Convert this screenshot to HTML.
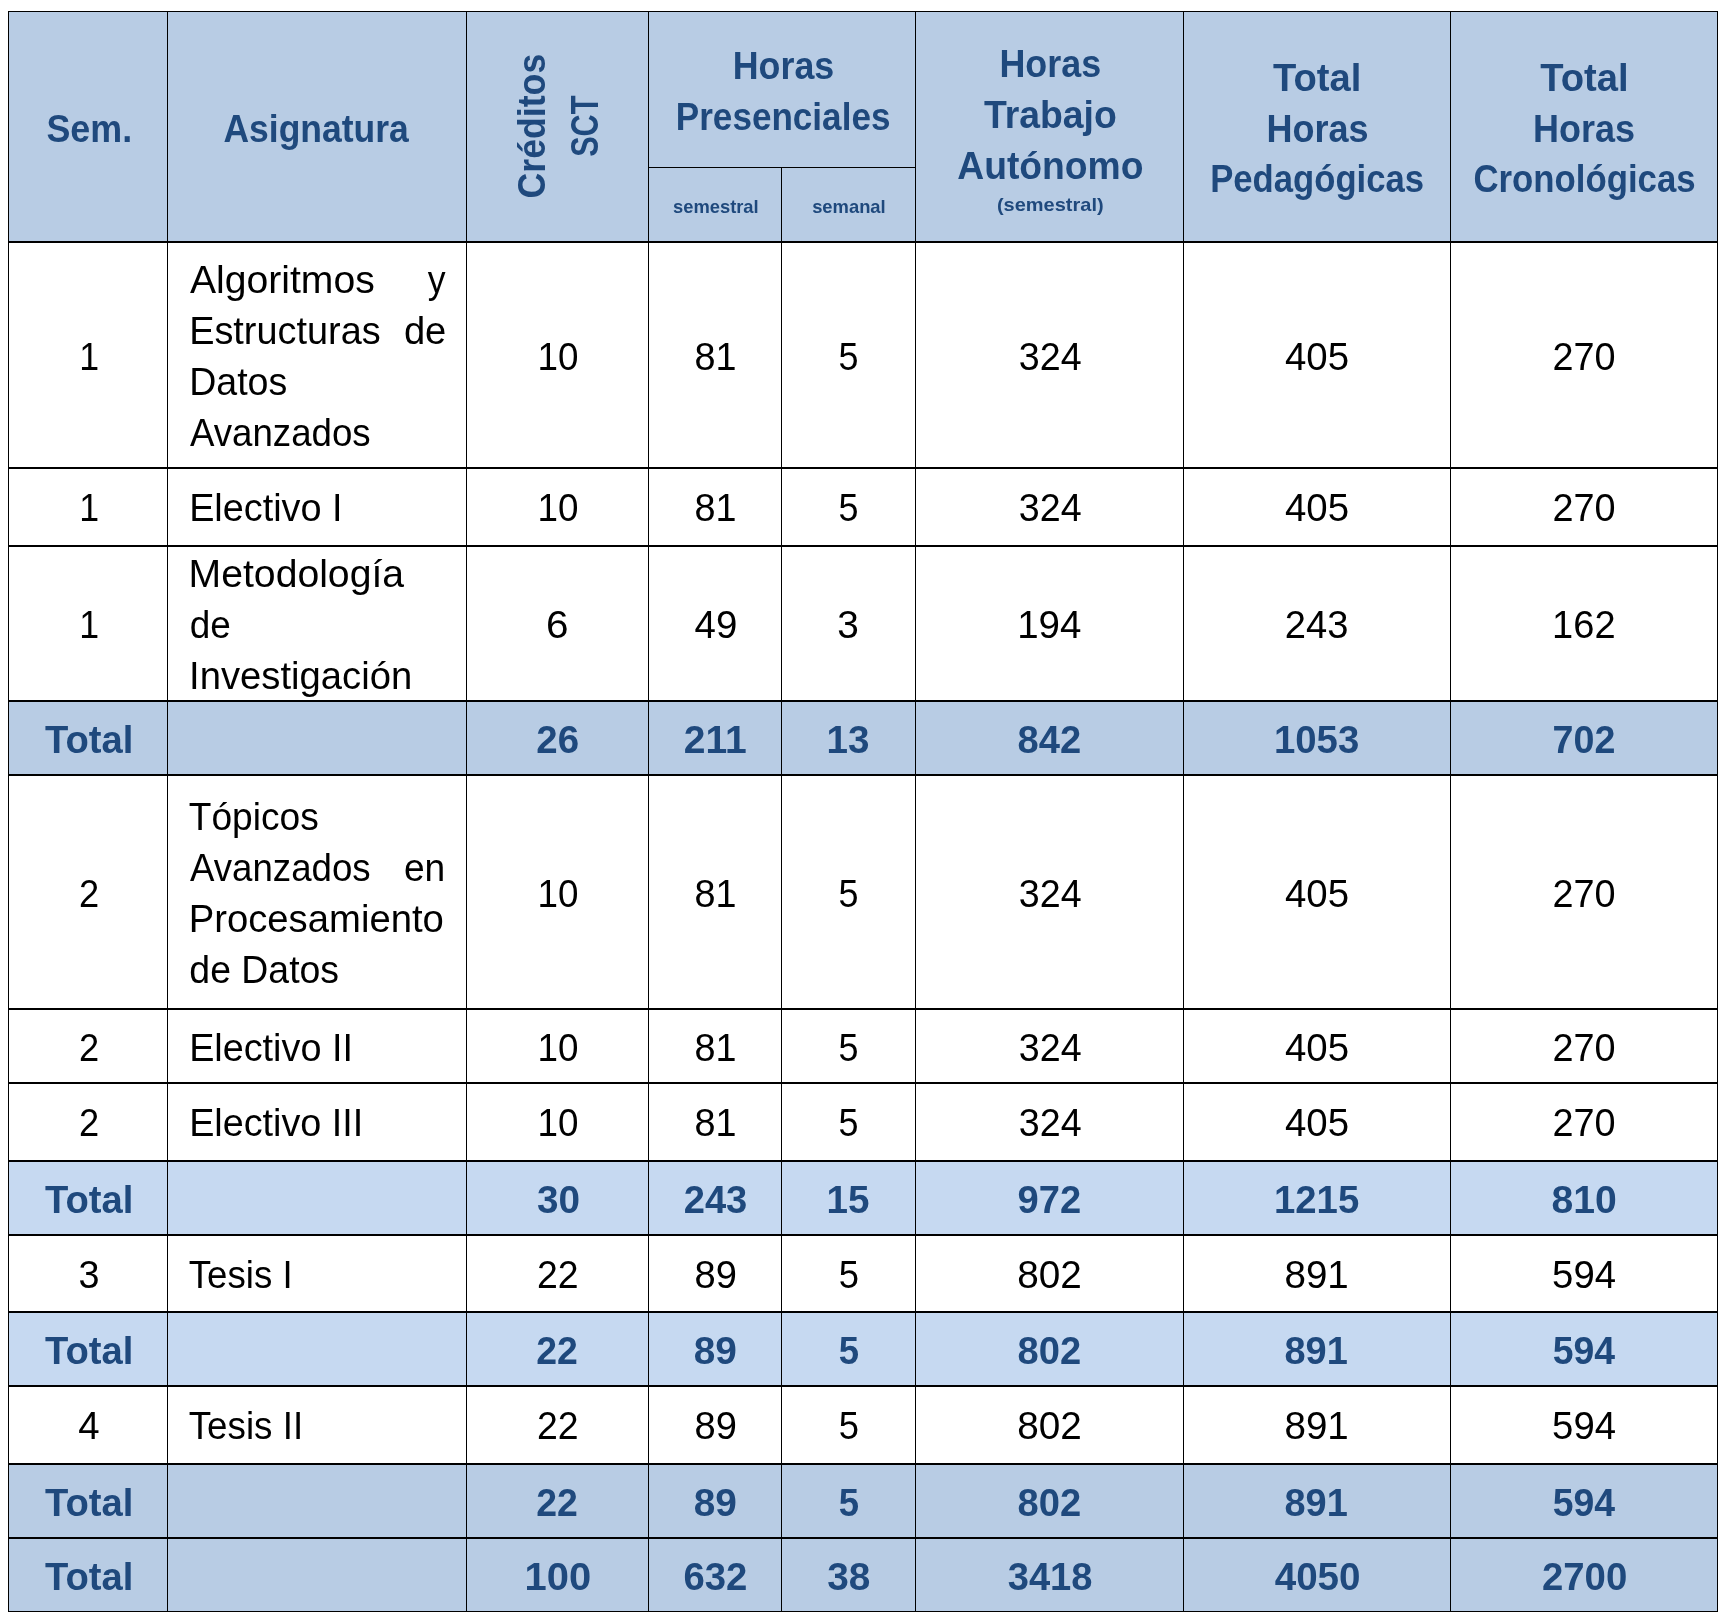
<!DOCTYPE html>
<html><head><meta charset="utf-8"><style>
html,body{margin:0;padding:0;background:#fff;width:1729px;height:1620px;overflow:hidden}
svg{display:block;will-change:transform}
text{font-family:"Liberation Sans",sans-serif;font-size:39px}
</style></head><body>
<svg width="1729" height="1620" viewBox="0 0 1729 1620">
<g shape-rendering="crispEdges">
<rect x="9" y="12" width="1708" height="229" fill="#B8CCE4"/>
<rect x="9" y="702" width="1708" height="72" fill="#B8CCE4"/>
<rect x="9" y="1162" width="1708" height="72" fill="#C6D9F1"/>
<rect x="9" y="1313" width="1708" height="72" fill="#C6D9F1"/>
<rect x="9" y="1465" width="1708" height="72" fill="#B8CCE4"/>
<rect x="9" y="1539" width="1708" height="72" fill="#B8CCE4"/>
<rect x="8" y="11" width="1710" height="1" fill="#000"/>
<rect x="648" y="167" width="267" height="1" fill="#000"/>
<rect x="8" y="241" width="1710" height="2" fill="#000"/>
<rect x="8" y="467" width="1710" height="2" fill="#000"/>
<rect x="8" y="545" width="1710" height="2" fill="#000"/>
<rect x="8" y="700" width="1710" height="2" fill="#000"/>
<rect x="8" y="774" width="1710" height="2" fill="#000"/>
<rect x="8" y="1008" width="1710" height="2" fill="#000"/>
<rect x="8" y="1082" width="1710" height="2" fill="#000"/>
<rect x="8" y="1160" width="1710" height="2" fill="#000"/>
<rect x="8" y="1234" width="1710" height="2" fill="#000"/>
<rect x="8" y="1311" width="1710" height="2" fill="#000"/>
<rect x="8" y="1385" width="1710" height="2" fill="#000"/>
<rect x="8" y="1463" width="1710" height="2" fill="#000"/>
<rect x="8" y="1537" width="1710" height="2" fill="#000"/>
<rect x="8" y="1611" width="1710" height="1" fill="#000"/>
<rect x="8" y="11" width="1" height="1601" fill="#000"/>
<rect x="167" y="11" width="1" height="1601" fill="#000"/>
<rect x="466" y="11" width="1" height="1601" fill="#000"/>
<rect x="648" y="11" width="1" height="1601" fill="#000"/>
<rect x="781" y="167" width="1" height="1445" fill="#000"/>
<rect x="915" y="11" width="1" height="1601" fill="#000"/>
<rect x="1183" y="11" width="1" height="1601" fill="#000"/>
<rect x="1450" y="11" width="1" height="1601" fill="#000"/>
<rect x="1717" y="11" width="1" height="1601" fill="#000"/>
</g>
<g>
<text x="46.44" y="142.00" font-weight="bold" fill="#1F497D" textLength="85.68" lengthAdjust="spacingAndGlyphs">Sem.</text>
<text x="223.45" y="142.00" font-weight="bold" fill="#1F497D" textLength="185.33" lengthAdjust="spacingAndGlyphs">Asignatura</text>
<text x="-1.11" y="0.00" transform="translate(545.00 197.30) rotate(-90)" font-weight="bold" fill="#1F497D" textLength="144.66" lengthAdjust="spacingAndGlyphs">Créditos</text>
<text x="-0.48" y="0.00" transform="translate(598.00 156.40) rotate(-90)" font-weight="bold" fill="#1F497D" textLength="61.32" lengthAdjust="spacingAndGlyphs">SCT</text>
<text x="732.76" y="79.00" font-weight="bold" fill="#1F497D" textLength="101.49" lengthAdjust="spacingAndGlyphs">Horas</text>
<text x="675.81" y="129.50" font-weight="bold" fill="#1F497D" textLength="214.62" lengthAdjust="spacingAndGlyphs">Presenciales</text>
<text x="673.03" y="212.80" font-weight="bold" fill="#1F497D" style="font-size:19px" textLength="85.66" lengthAdjust="spacingAndGlyphs">semestral</text>
<text x="812.13" y="212.80" font-weight="bold" fill="#1F497D" style="font-size:19px" textLength="73.56" lengthAdjust="spacingAndGlyphs">semanal</text>
<text x="999.46" y="77.00" font-weight="bold" fill="#1F497D" textLength="101.70" lengthAdjust="spacingAndGlyphs">Horas</text>
<text x="983.90" y="128.00" font-weight="bold" fill="#1F497D" textLength="132.92" lengthAdjust="spacingAndGlyphs">Trabajo</text>
<text x="957.22" y="178.70" font-weight="bold" fill="#1F497D" textLength="186.30" lengthAdjust="spacingAndGlyphs">Autónomo</text>
<text x="996.96" y="210.50" font-weight="bold" fill="#1F497D" style="font-size:19px" textLength="106.66" lengthAdjust="spacingAndGlyphs">(semestral)</text>
<text x="1273.10" y="91.20" font-weight="bold" fill="#1F497D" textLength="88.25" lengthAdjust="spacingAndGlyphs">Total</text>
<text x="1266.45" y="141.80" font-weight="bold" fill="#1F497D" textLength="102.11" lengthAdjust="spacingAndGlyphs">Horas</text>
<text x="1210.23" y="192.40" font-weight="bold" fill="#1F497D" textLength="213.87" lengthAdjust="spacingAndGlyphs">Pedagógicas</text>
<text x="1540.20" y="91.20" font-weight="bold" fill="#1F497D" textLength="88.36" lengthAdjust="spacingAndGlyphs">Total</text>
<text x="1532.95" y="141.80" font-weight="bold" fill="#1F497D" textLength="102.01" lengthAdjust="spacingAndGlyphs">Horas</text>
<text x="1473.41" y="192.40" font-weight="bold" fill="#1F497D" textLength="222.20" lengthAdjust="spacingAndGlyphs">Cronológicas</text>
<text x="79.37" y="370.00" textLength="19.88" lengthAdjust="spacingAndGlyphs">1</text>
<text x="537.60" y="370.00" textLength="40.92" lengthAdjust="spacingAndGlyphs">10</text>
<text x="694.42" y="370.00" textLength="42.01" lengthAdjust="spacingAndGlyphs">81</text>
<text x="838.48" y="370.00" textLength="19.98" lengthAdjust="spacingAndGlyphs">5</text>
<text x="1018.82" y="370.00" textLength="62.81" lengthAdjust="spacingAndGlyphs">324</text>
<text x="1285.00" y="370.00" textLength="64.06" lengthAdjust="spacingAndGlyphs">405</text>
<text x="1552.43" y="370.00" textLength="63.12" lengthAdjust="spacingAndGlyphs">270</text>
<text x="79.37" y="521.00" textLength="19.88" lengthAdjust="spacingAndGlyphs">1</text>
<text x="537.60" y="521.00" textLength="40.92" lengthAdjust="spacingAndGlyphs">10</text>
<text x="694.42" y="521.00" textLength="42.01" lengthAdjust="spacingAndGlyphs">81</text>
<text x="838.48" y="521.00" textLength="19.98" lengthAdjust="spacingAndGlyphs">5</text>
<text x="1018.82" y="521.00" textLength="62.81" lengthAdjust="spacingAndGlyphs">324</text>
<text x="1285.00" y="521.00" textLength="64.06" lengthAdjust="spacingAndGlyphs">405</text>
<text x="1552.43" y="521.00" textLength="63.12" lengthAdjust="spacingAndGlyphs">270</text>
<text x="79.37" y="638.00" textLength="19.88" lengthAdjust="spacingAndGlyphs">1</text>
<text x="545.90" y="638.00" textLength="22.54" lengthAdjust="spacingAndGlyphs">6</text>
<text x="694.60" y="638.00" textLength="42.76" lengthAdjust="spacingAndGlyphs">49</text>
<text x="837.29" y="638.00" textLength="21.59" lengthAdjust="spacingAndGlyphs">3</text>
<text x="1017.20" y="638.00" textLength="64.16" lengthAdjust="spacingAndGlyphs">194</text>
<text x="1284.81" y="638.00" textLength="63.63" lengthAdjust="spacingAndGlyphs">243</text>
<text x="1552.12" y="638.00" textLength="63.52" lengthAdjust="spacingAndGlyphs">162</text>
<text x="45.00" y="753.00" font-weight="bold" fill="#1F497D" textLength="88.36" lengthAdjust="spacingAndGlyphs">Total</text>
<text x="536.30" y="753.00" font-weight="bold" fill="#1F497D" textLength="42.76" lengthAdjust="spacingAndGlyphs">26</text>
<text x="683.68" y="753.00" font-weight="bold" fill="#1F497D" textLength="62.99" lengthAdjust="spacingAndGlyphs">211</text>
<text x="826.49" y="753.00" font-weight="bold" fill="#1F497D" textLength="42.98" lengthAdjust="spacingAndGlyphs">13</text>
<text x="1017.51" y="753.00" font-weight="bold" fill="#1F497D" textLength="63.64" lengthAdjust="spacingAndGlyphs">842</text>
<text x="1274.00" y="753.00" font-weight="bold" fill="#1F497D" textLength="85.25" lengthAdjust="spacingAndGlyphs">1053</text>
<text x="1552.62" y="753.00" font-weight="bold" fill="#1F497D" textLength="62.81" lengthAdjust="spacingAndGlyphs">702</text>
<text x="78.90" y="907.00" textLength="20.17" lengthAdjust="spacingAndGlyphs">2</text>
<text x="537.60" y="907.00" textLength="40.92" lengthAdjust="spacingAndGlyphs">10</text>
<text x="694.42" y="907.00" textLength="42.01" lengthAdjust="spacingAndGlyphs">81</text>
<text x="838.48" y="907.00" textLength="19.98" lengthAdjust="spacingAndGlyphs">5</text>
<text x="1018.82" y="907.00" textLength="62.81" lengthAdjust="spacingAndGlyphs">324</text>
<text x="1285.00" y="907.00" textLength="64.06" lengthAdjust="spacingAndGlyphs">405</text>
<text x="1552.43" y="907.00" textLength="63.12" lengthAdjust="spacingAndGlyphs">270</text>
<text x="78.90" y="1061.00" textLength="20.17" lengthAdjust="spacingAndGlyphs">2</text>
<text x="537.60" y="1061.00" textLength="40.92" lengthAdjust="spacingAndGlyphs">10</text>
<text x="694.42" y="1061.00" textLength="42.01" lengthAdjust="spacingAndGlyphs">81</text>
<text x="838.48" y="1061.00" textLength="19.98" lengthAdjust="spacingAndGlyphs">5</text>
<text x="1018.82" y="1061.00" textLength="62.81" lengthAdjust="spacingAndGlyphs">324</text>
<text x="1285.00" y="1061.00" textLength="64.06" lengthAdjust="spacingAndGlyphs">405</text>
<text x="1552.43" y="1061.00" textLength="63.12" lengthAdjust="spacingAndGlyphs">270</text>
<text x="78.90" y="1136.00" textLength="20.17" lengthAdjust="spacingAndGlyphs">2</text>
<text x="537.60" y="1136.00" textLength="40.92" lengthAdjust="spacingAndGlyphs">10</text>
<text x="694.42" y="1136.00" textLength="42.01" lengthAdjust="spacingAndGlyphs">81</text>
<text x="838.48" y="1136.00" textLength="19.98" lengthAdjust="spacingAndGlyphs">5</text>
<text x="1018.82" y="1136.00" textLength="62.81" lengthAdjust="spacingAndGlyphs">324</text>
<text x="1285.00" y="1136.00" textLength="64.06" lengthAdjust="spacingAndGlyphs">405</text>
<text x="1552.43" y="1136.00" textLength="63.12" lengthAdjust="spacingAndGlyphs">270</text>
<text x="45.00" y="1213.00" font-weight="bold" fill="#1F497D" textLength="88.36" lengthAdjust="spacingAndGlyphs">Total</text>
<text x="536.89" y="1213.00" font-weight="bold" fill="#1F497D" textLength="43.07" lengthAdjust="spacingAndGlyphs">30</text>
<text x="683.71" y="1213.00" font-weight="bold" fill="#1F497D" textLength="63.64" lengthAdjust="spacingAndGlyphs">243</text>
<text x="826.49" y="1213.00" font-weight="bold" fill="#1F497D" textLength="42.98" lengthAdjust="spacingAndGlyphs">15</text>
<text x="1017.51" y="1213.00" font-weight="bold" fill="#1F497D" textLength="63.64" lengthAdjust="spacingAndGlyphs">972</text>
<text x="1274.00" y="1213.00" font-weight="bold" fill="#1F497D" textLength="85.25" lengthAdjust="spacingAndGlyphs">1215</text>
<text x="1551.58" y="1213.00" font-weight="bold" fill="#1F497D" textLength="65.31" lengthAdjust="spacingAndGlyphs">810</text>
<text x="78.62" y="1288.00" textLength="21.01" lengthAdjust="spacingAndGlyphs">3</text>
<text x="536.94" y="1288.00" textLength="41.67" lengthAdjust="spacingAndGlyphs">22</text>
<text x="694.61" y="1288.00" textLength="42.33" lengthAdjust="spacingAndGlyphs">89</text>
<text x="838.66" y="1288.00" textLength="20.21" lengthAdjust="spacingAndGlyphs">5</text>
<text x="1017.29" y="1288.00" textLength="64.58" lengthAdjust="spacingAndGlyphs">802</text>
<text x="1284.50" y="1288.00" textLength="64.26" lengthAdjust="spacingAndGlyphs">891</text>
<text x="1552.10" y="1288.00" textLength="63.95" lengthAdjust="spacingAndGlyphs">594</text>
<text x="45.00" y="1364.00" font-weight="bold" fill="#1F497D" textLength="88.36" lengthAdjust="spacingAndGlyphs">Total</text>
<text x="536.33" y="1364.00" font-weight="bold" fill="#1F497D" textLength="41.60" lengthAdjust="spacingAndGlyphs">22</text>
<text x="693.79" y="1364.00" font-weight="bold" fill="#1F497D" textLength="43.18" lengthAdjust="spacingAndGlyphs">89</text>
<text x="838.73" y="1364.00" font-weight="bold" fill="#1F497D" textLength="20.28" lengthAdjust="spacingAndGlyphs">5</text>
<text x="1017.51" y="1364.00" font-weight="bold" fill="#1F497D" textLength="63.64" lengthAdjust="spacingAndGlyphs">802</text>
<text x="1284.51" y="1364.00" font-weight="bold" fill="#1F497D" textLength="63.33" lengthAdjust="spacingAndGlyphs">891</text>
<text x="1552.72" y="1364.00" font-weight="bold" fill="#1F497D" textLength="62.35" lengthAdjust="spacingAndGlyphs">594</text>
<text x="78.30" y="1439.00" textLength="21.36" lengthAdjust="spacingAndGlyphs">4</text>
<text x="536.94" y="1439.00" textLength="41.67" lengthAdjust="spacingAndGlyphs">22</text>
<text x="694.61" y="1439.00" textLength="42.33" lengthAdjust="spacingAndGlyphs">89</text>
<text x="838.66" y="1439.00" textLength="20.21" lengthAdjust="spacingAndGlyphs">5</text>
<text x="1017.29" y="1439.00" textLength="64.58" lengthAdjust="spacingAndGlyphs">802</text>
<text x="1284.50" y="1439.00" textLength="64.26" lengthAdjust="spacingAndGlyphs">891</text>
<text x="1552.10" y="1439.00" textLength="63.95" lengthAdjust="spacingAndGlyphs">594</text>
<text x="45.00" y="1516.00" font-weight="bold" fill="#1F497D" textLength="88.36" lengthAdjust="spacingAndGlyphs">Total</text>
<text x="536.33" y="1516.00" font-weight="bold" fill="#1F497D" textLength="41.60" lengthAdjust="spacingAndGlyphs">22</text>
<text x="693.79" y="1516.00" font-weight="bold" fill="#1F497D" textLength="43.18" lengthAdjust="spacingAndGlyphs">89</text>
<text x="838.73" y="1516.00" font-weight="bold" fill="#1F497D" textLength="20.28" lengthAdjust="spacingAndGlyphs">5</text>
<text x="1017.51" y="1516.00" font-weight="bold" fill="#1F497D" textLength="63.64" lengthAdjust="spacingAndGlyphs">802</text>
<text x="1284.51" y="1516.00" font-weight="bold" fill="#1F497D" textLength="63.33" lengthAdjust="spacingAndGlyphs">891</text>
<text x="1552.72" y="1516.00" font-weight="bold" fill="#1F497D" textLength="62.35" lengthAdjust="spacingAndGlyphs">594</text>
<text x="45.00" y="1590.00" font-weight="bold" fill="#1F497D" textLength="88.36" lengthAdjust="spacingAndGlyphs">Total</text>
<text x="524.50" y="1590.00" font-weight="bold" fill="#1F497D" textLength="66.61" lengthAdjust="spacingAndGlyphs">100</text>
<text x="683.40" y="1590.00" font-weight="bold" fill="#1F497D" textLength="63.95" lengthAdjust="spacingAndGlyphs">632</text>
<text x="827.29" y="1590.00" font-weight="bold" fill="#1F497D" textLength="43.17" lengthAdjust="spacingAndGlyphs">38</text>
<text x="1007.70" y="1590.00" font-weight="bold" fill="#1F497D" textLength="84.85" lengthAdjust="spacingAndGlyphs">3418</text>
<text x="1274.70" y="1590.00" font-weight="bold" fill="#1F497D" textLength="85.86" lengthAdjust="spacingAndGlyphs">4050</text>
<text x="1541.90" y="1590.00" font-weight="bold" fill="#1F497D" textLength="85.35" lengthAdjust="spacingAndGlyphs">2700</text>
<text x="190.00" y="293.00" textLength="184.72" lengthAdjust="spacingAndGlyphs">Algoritmos</text>
<text x="427.80" y="293.00" textLength="17.80" lengthAdjust="spacingAndGlyphs">y</text>
<text x="189.14" y="344.00" textLength="191.54" lengthAdjust="spacingAndGlyphs">Estructuras</text>
<text x="403.91" y="344.00" textLength="42.44" lengthAdjust="spacingAndGlyphs">de</text>
<text x="189.17" y="394.60" textLength="98.11" lengthAdjust="spacingAndGlyphs">Datos</text>
<text x="190.00" y="445.80" textLength="180.65" lengthAdjust="spacingAndGlyphs">Avanzados</text>
<text x="189.15" y="521.00" textLength="153.37" lengthAdjust="spacingAndGlyphs">Electivo I</text>
<text x="188.64" y="587.00" textLength="215.41" lengthAdjust="spacingAndGlyphs">Metodología</text>
<text x="189.85" y="637.50" textLength="41.05" lengthAdjust="spacingAndGlyphs">de</text>
<text x="189.11" y="688.60" textLength="223.03" lengthAdjust="spacingAndGlyphs">Investigación</text>
<text x="188.82" y="829.70" textLength="129.94" lengthAdjust="spacingAndGlyphs">Tópicos</text>
<text x="190.00" y="880.70" textLength="180.65" lengthAdjust="spacingAndGlyphs">Avanzados</text>
<text x="403.94" y="880.70" textLength="41.35" lengthAdjust="spacingAndGlyphs">en</text>
<text x="188.71" y="931.70" textLength="255.14" lengthAdjust="spacingAndGlyphs">Procesamiento</text>
<text x="189.33" y="982.70" textLength="149.74" lengthAdjust="spacingAndGlyphs">de Datos</text>
<text x="189.15" y="1061.00" textLength="163.76" lengthAdjust="spacingAndGlyphs">Electivo II</text>
<text x="189.15" y="1136.00" textLength="174.16" lengthAdjust="spacingAndGlyphs">Electivo III</text>
<text x="188.73" y="1288.00" textLength="103.88" lengthAdjust="spacingAndGlyphs">Tesis I</text>
<text x="188.73" y="1439.00" textLength="114.40" lengthAdjust="spacingAndGlyphs">Tesis II</text>
</g>
</svg>
</body></html>
